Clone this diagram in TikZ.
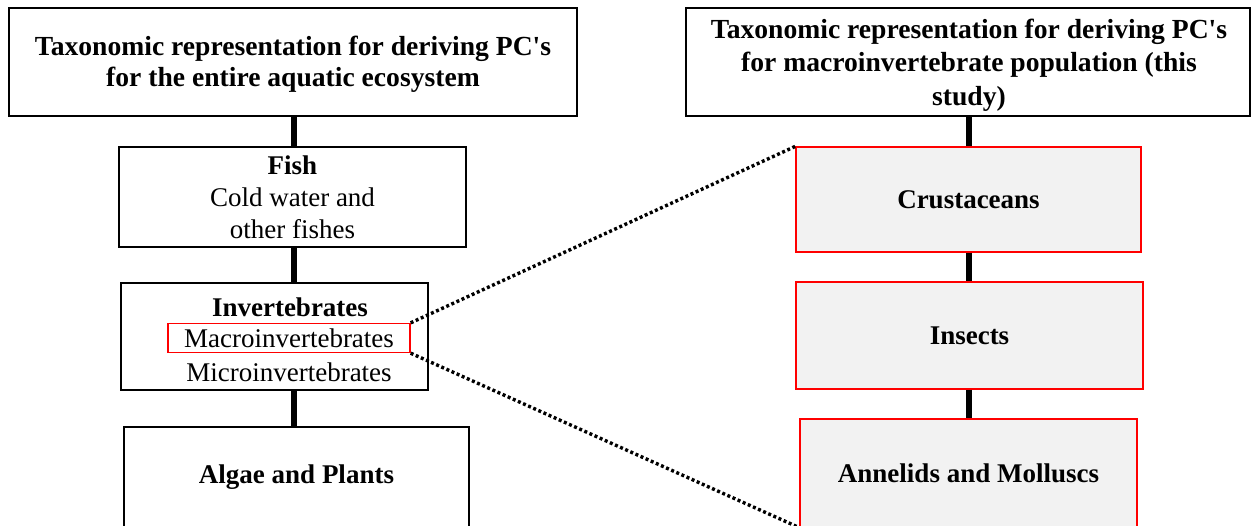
\documentclass[tikz,border=0pt]{standalone}
\usepackage{fontspec}
\setmainfont{Liberation Serif}
\begin{document}
\begin{tikzpicture}[x=1pt,y=-1pt,
  box/.style={draw=black,line width=1.3pt,fill=white,inner sep=0pt,align=center,
    font=\fontsize{27}{31}\selectfont},
  redbox/.style={draw=red,line width=1.3pt,fill=gray!10,inner sep=0pt,align=center,
    font=\fontsize{27}{31}\selectfont\bfseries},
  txt/.style={inner sep=0pt,align=center,font=\fontsize{27}{32}\selectfont},
  title/.style={inner sep=0pt,align=center,font=\fontsize{27.6}{30.5}\selectfont\bfseries},
  link/.style={line width=6pt},
  zoomline/.style={line width=3.4pt,dash pattern=on 3pt off 2.6pt}]
\useasboundingbox (0,0) rectangle (1256,525);
% left column
\node[box,minimum width=568pt,minimum height=108pt] (A) at (293,62) {};
\node[title] (Atext) at (293,64.5)
  {Taxonomic representation for deriving PC\textquotesingle s\\for the entire aquatic ecosystem};
\node[box,minimum width=347pt,minimum height=100pt,font=\fontsize{27}{32}\selectfont] (fish) at (292.5,197)
  {\textbf{Fish}\\Cold water and\\other fishes};
\node[box,minimum width=307pt,minimum height=107pt] (inv) at (274.5,336.5) {};
\node[txt,font=\fontsize{27}{32}\selectfont\bfseries] (invT) at (290,307) {Invertebrates};
\node[draw=red,line width=1.3pt,minimum width=242pt,minimum height=29pt,inner sep=0pt,
  font=\fontsize{27}{32}\selectfont] (macro) at (289,338) {Macroinvertebrates};
\node[txt] (micro) at (289,372) {Microinvertebrates};
\node[box,minimum width=345pt,minimum height=100pt,font=\fontsize{27}{31}\selectfont\bfseries] (algae) at (296.5,477)
  {Algae and Plants};
% right column
\node[box,minimum width=564pt,minimum height=108pt] (B) at (968,62) {};
\node[title,font=\fontsize{27.6}{33.5}\selectfont\bfseries] (Btext) at (969,65)
  {Taxonomic representation for deriving PC\textquotesingle s\\for macroinvertebrate population (this\\study)};
\node[redbox,minimum width=345pt,minimum height=105pt] (crus) at (968.5,199.5) {Crustaceans};
\node[redbox,minimum width=347pt,minimum height=107pt] (ins) at (969.5,335.5) {Insects};
\node[redbox,minimum width=337pt,minimum height=108pt] (ann) at (968.5,473) {Annelids and Molluscs};
% connectors
\draw[link] (A.south -| 294,0) -- (fish.north -| 294,0);
\draw[link] (fish.south -| 294,0) -- (inv.north -| 294,0);
\draw[link] (inv.south -| 294,0) -- (algae.north -| 294,0);
\draw[link] (B.south -| 969,0) -- (crus.north -| 969,0);
\draw[link] (crus.south -| 969,0) -- (ins.north -| 969,0);
\draw[link] (ins.south -| 969,0) -- (ann.north -| 969,0);
\draw[zoomline] (macro.north east) -- (crus.north west);
\draw[zoomline] (macro.south east) -- (ann.south west);
\end{tikzpicture}
\end{document}
